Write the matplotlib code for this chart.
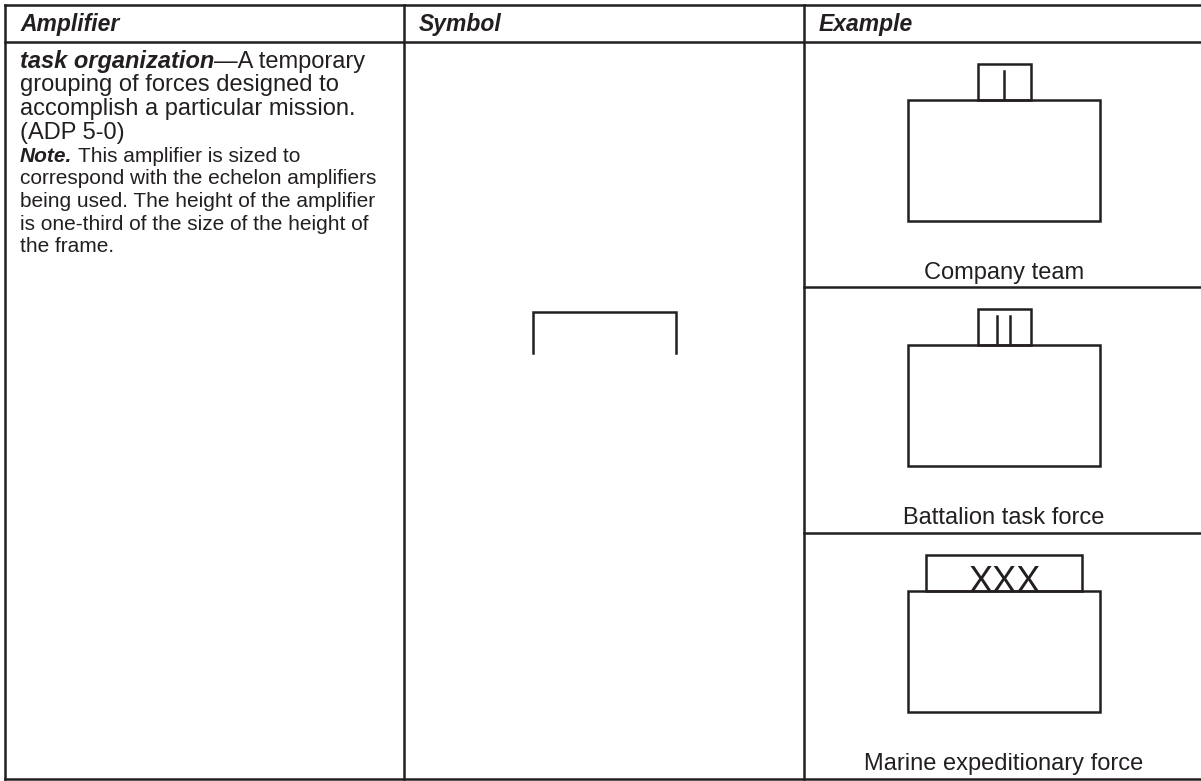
import matplotlib
matplotlib.use("Agg")
import matplotlib.pyplot as plt
from matplotlib.patches import Rectangle

# ---- content ----
headers = ["Amplifier", "Symbol", "Example"]
term = "task organization"
definition_lines = ["—A temporary", "grouping of forces designed to",
                    "accomplish a particular mission.", "(ADP 5-0)"]
note_label = "Note."
note_lines = ["This amplifier is sized to",
              "correspond with the echelon amplifiers",
              "being used. The height of the amplifier",
              "is one-third of the size of the height of",
              "the frame."]
example_labels = ["Company team", "Battalion task force", "Marine expeditionary force"]
echelon_marks = ["I", "II", "XXX"]

# ---- layout / style ----
W, H = 1201, 781
INK = "#231f20"
FONT = "Liberation Sans"
LW = 1.8
DPI = 100

fig = plt.figure(figsize=(W / DPI, H / DPI), dpi=DPI)
ax = fig.add_axes([0, 0, 1, 1])
ax.set_xlim(0, W)
ax.set_ylim(H, 0)
ax.axis("off")
renderer = fig.canvas.get_renderer()

def px(pt):
    return pt * DPI / 72.0

def hline(y, x0=5, x1=W):
    ax.plot([x0, x1], [y, y], color=INK, lw=LW, solid_capstyle="projecting")

def vline(x, y0, y1):
    ax.plot([x, x], [y0, y1], color=INK, lw=LW, solid_capstyle="projecting")

def text(x, y, s, size, weight="normal", style="normal", ha="left"):
    return ax.text(x, y, s, fontsize=size, fontweight=weight, fontstyle=style,
                   family=FONT, color=INK, ha=ha, va="baseline")

def right_edge(t):
    bb = t.get_window_extent(renderer)
    return ax.transData.inverted().transform((bb.x1, bb.y0))[0]

# table grid
top, head_y, bottom = 5, 42, 779
col_x = [5, 404, 804]
hline(top)
hline(head_y)
hline(bottom)
for cx in col_x:
    vline(cx, top, bottom)
row_tops = [head_y, 287, 533]
for ry in row_tops[1:]:
    hline(ry, col_x[2], W)

# headers
HEAD_PT = 16.5
for cx, h in zip(col_x, headers):
    text(cx + 15, 31, h, HEAD_PT, weight="bold", style="italic")

# amplifier column
MAIN_PT = 17
NOTE_PT = 15
x0 = 20
main_base = 68
t = text(x0, main_base, term, MAIN_PT, weight="bold", style="italic")
text(right_edge(t), main_base, definition_lines[0], MAIN_PT)
for i, line in enumerate(definition_lines[1:], start=1):
    text(x0, main_base + 23.5 * i, line, MAIN_PT)
note_base = 162
t = text(x0, note_base, note_label, NOTE_PT, weight="bold", style="italic")
text(right_edge(t) + 0.278 * px(NOTE_PT), note_base, note_lines[0], NOTE_PT)
for i, line in enumerate(note_lines[1:], start=1):
    text(x0, note_base + 22.5 * i, line, NOTE_PT)

# symbol column: task organization bracket
sym_cx = (col_x[1] + col_x[2]) / 2
sym_w, sym_top, sym_h = 143, 312, 41
ax.plot([sym_cx - sym_w / 2, sym_cx - sym_w / 2, sym_cx + sym_w / 2, sym_cx + sym_w / 2],
        [sym_top + sym_h, sym_top, sym_top, sym_top + sym_h],
        color=INK, lw=LW, solid_joinstyle="miter")

# example column
ex_cx = 1004
frame_w, frame_h = 192, 121
amp_h = 36
amp_w = [53, 53, 156]
LABEL_PT = 17
for r, lab, mark, aw in zip(row_tops, example_labels, echelon_marks, amp_w):
    f_top = r + 58
    ax.add_patch(Rectangle((ex_cx - frame_w / 2, f_top), frame_w, frame_h,
                           fill=False, ec=INK, lw=LW, joinstyle="miter"))
    ax.add_patch(Rectangle((ex_cx - aw / 2, f_top - amp_h), aw, amp_h,
                           fill=False, ec=INK, lw=LW, joinstyle="miter"))
    if set(mark) == {"I"}:
        n = len(mark)
        gap = 13
        for k in range(n):
            bx = ex_cx - 0.5 + (k - (n - 1) / 2) * gap
            ax.plot([bx, bx], [f_top - amp_h + 7, f_top - 2], color=INK, lw=LW)
    else:
        ax.text(ex_cx, f_top + 1, mark, fontsize=26, family=FONT, color=INK,
                ha="center", va="baseline")
    text(ex_cx, r + 237, lab, LABEL_PT, ha="center")

fig.savefig("out.png", dpi=DPI, facecolor="white")
